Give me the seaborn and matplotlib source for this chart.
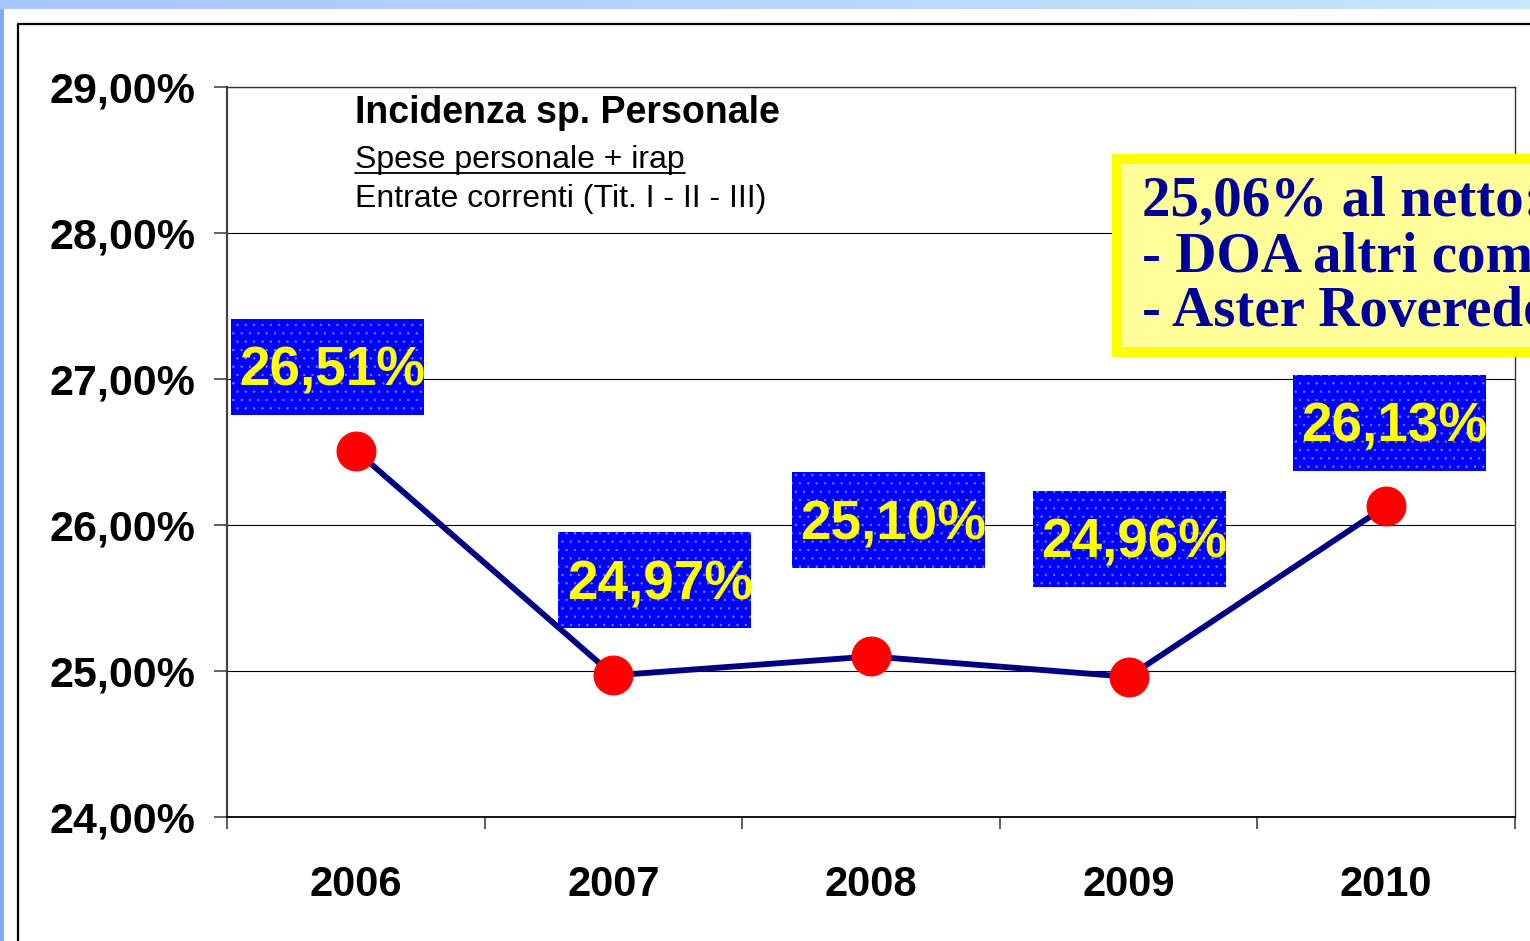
import numpy as np
import pandas as pd
import matplotlib
matplotlib.use("Agg")
import matplotlib.pyplot as plt
import seaborn as sns
from matplotlib.patches import Rectangle
from matplotlib.lines import Line2D
from matplotlib.colors import LinearSegmentedColormap
from matplotlib.transforms import Affine2D, ScaledTranslation

# ---- data ----
years = ["2006", "2007", "2008", "2009", "2010"]
incidenza = [26.51, 24.97, 25.10, 24.96, 26.13]
value_labels = ["26,51%", "24,97%", "25,10%", "24,96%", "26,13%"]
y_ticks = [24, 25, 26, 27, 28, 29]
y_tick_labels = ["24,00%", "25,00%", "26,00%", "27,00%", "28,00%", "29,00%"]
title_lines = ["Incidenza sp. Personale", "Spese personale + irap",
               "Entrate correnti (Tit. I - II - III)"]
note_lines = ["25,06% al netto:", "- DOA altri comuni", "- Aster Roveredo"]

# label box offsets (pixels, from each point to box centre)
label_offsets = [(-28.5, 84), (41.5, 95), (17.5, 136), (0.5, 138), (3.5, 83.5)]

sns.set_theme(style="white")
plt.rcParams["font.family"] = ["Liberation Sans", "DejaVu Sans"]
plt.rcParams["hatch.linewidth"] = 0.4

W, H = 1530, 941
fig = plt.figure(figsize=(W / 100, H / 100), dpi=100, facecolor="white")

def fx(px):
    return px / W

def fy(py):
    return 1 - py / H

# background slide strips
gax = fig.add_axes([0, fy(9), 1, 9 / H])
cmap = LinearSegmentedColormap.from_list("g", ["#a6c6ff", "#c8e6fc"])
gax.imshow(np.linspace(0, 1, 256)[None, :], aspect="auto", cmap=cmap,
           extent=[0, 1, 0, 1])
gax.axis("off")
fig.add_artist(Rectangle((0, 0), fx(3.5), 1, transform=fig.transFigure,
                         facecolor="#80a8ff", edgecolor="none", zorder=0))
# outer frame
fig.add_artist(Line2D([fx(17.5), fx(17.5), 1.0], [0, fy(23.5), fy(23.5)],
                      transform=fig.transFigure, color="black", lw=1.6))

ax = fig.add_axes([fx(227), fy(817), fx(1515) - fx(227), fy(87) - fy(817)])
ax.set_facecolor("white")

x = list(range(len(years)))
sns.lineplot(x=x, y=incidenza, ax=ax, color="#000080", linewidth=4.2,
             marker="o", markersize=28, markerfacecolor="#ff0000",
             markeredgecolor="#ff0000", zorder=5)

ax.set_xlim(-0.5, len(years) - 0.5)
ax.set_ylim(min(y_ticks), max(y_ticks))
ax.set_yticks(y_ticks)
ax.set_yticklabels(y_tick_labels)
ax.set_xticks(x)
ax.set_xticklabels(years)
ax.set_xticks([i - 0.5 for i in range(len(years) + 1)], minor=True)

ax.yaxis.grid(True, color="#000000", linewidth=0.8)
ax.set_axisbelow(True)
ax.tick_params(axis="y", which="major", direction="out", length=9.4, width=1.1,
               color="#333333", pad=13.5, labelsize=31, left=True)
ax.tick_params(axis="x", which="major", length=0, pad=34.5, labelsize=30)
ax.tick_params(axis="x", which="minor", direction="out", length=8.6, width=1.1,
               color="#333333", bottom=True)
for lab in ax.get_yticklabels() + ax.get_xticklabels():
    lab.set_fontweight("bold")
    lab.set_color("black")

for side, col, lw in [("left", "#444444", 1.6), ("bottom", "#000000", 1.3),
                      ("top", "#333333", 1.0), ("right", "#333333", 1.0)]:
    ax.spines[side].set_visible(True)
    ax.spines[side].set_color(col)
    ax.spines[side].set_linewidth(lw)

# value labels with blue dotted boxes
bw, bh = 193, 96
for xi, v, txt, (dx, dy) in zip(x, incidenza, value_labels, label_offsets):
    tr = Affine2D() + ScaledTranslation(xi, v, ax.transData)
    ax.add_patch(Rectangle((dx - bw / 2, dy - bh / 2), bw, bh, transform=tr,
                           facecolor="#0000ff", edgecolor="#6f92ff",
                           hatch="..", linewidth=0, zorder=6, clip_on=False))
    ax.annotate(txt, xy=(xi, v), xytext=(dx + 5, dy - 19),
                textcoords="offset pixels", ha="center", va="baseline",
                fontsize=39.5, fontweight="bold", color="#ffff00", zorder=7,
                annotation_clip=False)

# title text block
fig.text(fx(355), fy(123), title_lines[0], fontsize=27, fontweight="bold",
         color="black", ha="left", va="baseline")
sub = fig.text(fx(355), fy(168), title_lines[1], fontsize=23, color="black",
               ha="left", va="baseline")
fig.text(fx(355), fy(207), title_lines[2], fontsize=23, color="black",
         ha="left", va="baseline")

# yellow note box
fig.add_artist(Rectangle((fx(1117), fy(351.5)), fx(600), 192 / H,
                         transform=fig.transFigure, facecolor="#ffff99",
                         edgecolor="#ffff00", linewidth=7.2, zorder=8))
for i, line in enumerate(note_lines):
    fig.text(fx(1142), fy(216 + 55 * i), line, fontsize=41, fontweight="bold",
             family=["Liberation Serif", "DejaVu Serif"], color="#000099",
             ha="left", va="baseline", zorder=9)

# underline the numerator text
fig.canvas.draw()
bb = sub.get_window_extent()
fig.add_artist(Line2D([bb.x0 / W, bb.x1 / W], [fy(173), fy(173)],
                      transform=fig.transFigure, color="black", lw=1.3))

fig.savefig("out.png", dpi=100)
